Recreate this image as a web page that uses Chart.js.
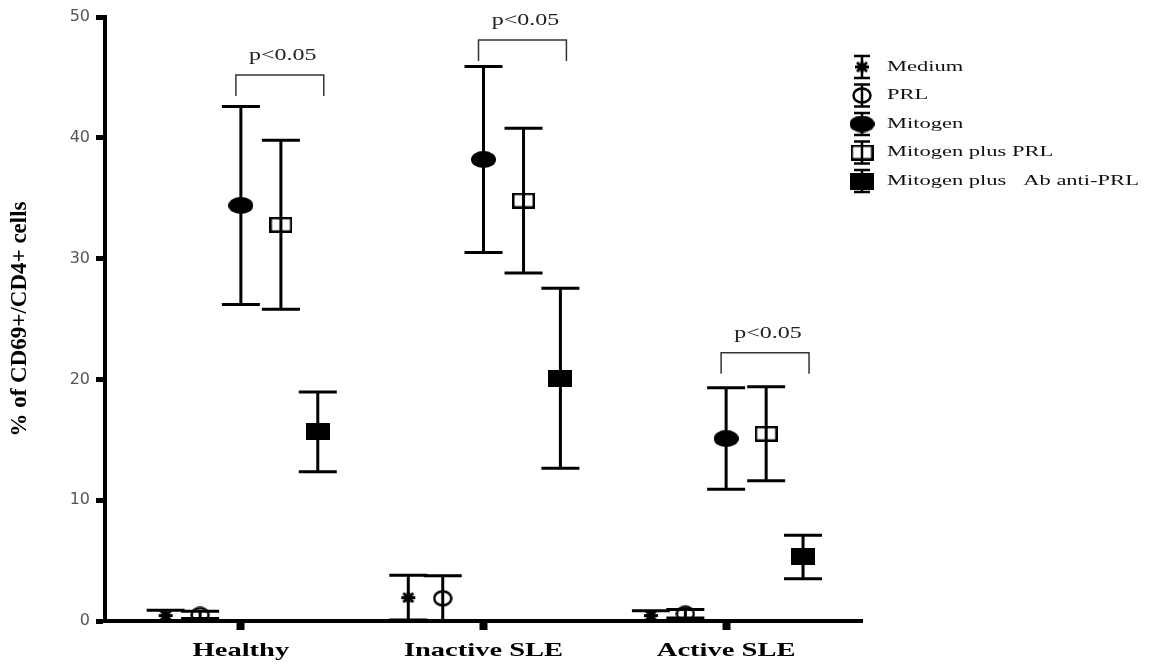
<!DOCTYPE html>
<html lang="en">
<head>
<meta charset="UTF-8">
<title>CD69+/CD4+ cells</title>
<script src="https://cdn.jsdelivr.net/npm/chart.js"></script>
<style>
  html, body { margin: 0; padding: 0; background: #fff; }
</style>
</head>
<body>
<canvas id="cd69Chart" width="1159" height="666"></canvas>
<script>
// groups on the x axis
const groups = ['Healthy', 'Inactive SLE', 'Active SLE'];
const seriesNames = ['Medium', 'PRL', 'Mitogen', 'Mitogen plus PRL', 'Mitogen plus   Ab anti-PRL'];

// mean % and error for each series (Healthy, Inactive SLE, Active SLE)
const medium = [0.45, 1.93, 0.45];
const mediumErr = [0.45, 1.85, 0.4];
const prl = [0.5, 1.88, 0.6];
const prlErr = [0.3, 1.87, 0.35];
const mitogen = [34.4, 38.2, 15.1];
const mitogenErr = [8.2, 7.7, 4.2];
const mitogenPrl = [32.8, 34.8, 15.5];
const mitogenPrlErr = [7.0, 6.0, 3.9];
const mitogenAb = [15.65, 20.1, 5.3];
const mitogenAbErr = [3.3, 7.45, 1.8];

const yTicks = [0, 10, 20, 30, 40, 50];
const pText = 'p<0.05';
const bracketY = [45.2, 48.1, 22.2];

// horizontal place of each series inside a group (x units)
const offsets = [-0.31, -0.168, 0, 0.165, 0.317];
const STRETCH = 1.5;

function marker(w, h, draw) {
    const c = document.createElement('canvas');
    c.width = w; c.height = h;
    const g = c.getContext('2d');
    g.fillStyle = '#000'; g.strokeStyle = '#000';
    draw(g, w, h);
    return c;
}
function starShape(g, w, h) {
    g.lineWidth = 3;
    g.beginPath();
    g.moveTo(1, h / 2); g.lineTo(w - 1, h / 2);
    g.moveTo(w / 2, 1); g.lineTo(w / 2, h - 1);
    g.moveTo(3, 2); g.lineTo(w - 3, h - 2);
    g.moveTo(w - 3, 2); g.lineTo(3, h - 2);
    g.stroke();
}
const starMark = marker(16, 13, starShape);
const circleOpen = marker(20, 17, (g, w, h) => { g.lineWidth = 2.5; g.beginPath(); g.ellipse(w / 2, h / 2, w / 2 - 1.5, h / 2 - 1.5, 0, 0, Math.PI * 2); g.stroke(); });
const circleFilled = marker(25, 17, (g, w, h) => { g.beginPath(); g.ellipse(w / 2, h / 2, w / 2, h / 2, 0, 0, Math.PI * 2); g.fill(); });
const squareOpen = marker(23, 16, (g, w, h) => { g.lineWidth = 2.5; g.strokeRect(1.25, 1.25, w - 2.5, h - 2.5); });
const squareFilled = marker(24, 17, (g, w, h) => { g.fillRect(0, 0, w, h); });

const values = [medium, prl, mitogen, mitogenPrl, mitogenAb];
const errors = [mediumErr, prlErr, mitogenErr, mitogenPrlErr, mitogenAbErr];
const styles = [starMark, circleOpen, circleFilled, squareOpen, squareFilled];

const datasets = values.map((vals, i) => ({
    label: seriesNames[i],
    data: vals.map((v, j) => ({ x: j + 1 + offsets[i], y: v })),
    err: errors[i],
    pointStyle: styles[i],
    showLine: false
}));

function stretchedText(ctx, text, x, y, font, color) {
    ctx.save();
    ctx.font = font;
    ctx.fillStyle = color;
    ctx.textBaseline = 'middle';
    ctx.translate(x, y);
    ctx.scale(STRETCH, 1);
    ctx.fillText(text, 0, 0);
    ctx.restore();
}

const errorBars = {
    id: 'errorBars',
    beforeDatasetsDraw(chart) {
        const ctx = chart.ctx, xs = chart.scales.x, ys = chart.scales.y;
        ctx.save();
        ctx.strokeStyle = '#000';
        ctx.lineWidth = 3;
        chart.data.datasets.forEach(ds => {
            ds.data.forEach((p, j) => {
                const x = xs.getPixelForValue(p.x);
                const top = ys.getPixelForValue(p.y + ds.err[j]);
                const bot = ys.getPixelForValue(Math.max(0, p.y - ds.err[j]));
                ctx.beginPath();
                ctx.moveTo(x, top); ctx.lineTo(x, bot);
                ctx.moveTo(x - 19, top); ctx.lineTo(x + 19, top);
                ctx.moveTo(x - 19, bot); ctx.lineTo(x + 19, bot);
                ctx.stroke();
            });
        });
        ctx.restore();
    }
};

const extras = {
    id: 'extras',
    afterDraw(chart) {
        const ctx = chart.ctx, xs = chart.scales.x, ys = chart.scales.y, area = chart.chartArea;
        // p value brackets
        ctx.save();
        ctx.strokeStyle = '#333';
        ctx.lineWidth = 1.5;
        groups.forEach((g, j) => {
            const x1 = xs.getPixelForValue(j + 1 + offsets[2]) - 5;
            const x2 = xs.getPixelForValue(j + 1 + offsets[4]) + 6;
            const y = ys.getPixelForValue(bracketY[j]);
            ctx.beginPath();
            ctx.moveTo(x1, y + 21); ctx.lineTo(x1, y); ctx.lineTo(x2, y); ctx.lineTo(x2, y + 21);
            ctx.stroke();
            ctx.save();
            ctx.font = '16px "Liberation Serif"';
            const w = ctx.measureText(pText).width * STRETCH;
            ctx.restore();
            stretchedText(ctx, pText, (x1 + x2) / 2 - w / 2 + 3, y - 19, '16px "Liberation Serif"', '#222');
        });
        ctx.restore();

        // group labels under the x axis
        xs.ticks.forEach(t => {
            const label = groups[Math.round(t.value) - 1];
            ctx.save();
            ctx.font = 'bold 19px "Liberation Serif"';
            const w = ctx.measureText(label).width * STRETCH;
            ctx.restore();
            stretchedText(ctx, label, xs.getPixelForValue(t.value) - w / 2, area.bottom + 30, 'bold 19px "Liberation Serif"', '#000');
        });

        // legend
        const lx = area.right;
        chart.data.datasets.forEach((ds, i) => {
            const cy = 67 + i * 28.5;
            ctx.save();
            ctx.strokeStyle = '#000';
            ctx.lineWidth = 2.5;
            ctx.beginPath();
            ctx.moveTo(lx, cy - 11); ctx.lineTo(lx, cy + 11);
            ctx.moveTo(lx - 8, cy - 11); ctx.lineTo(lx + 8, cy - 11);
            ctx.moveTo(lx - 8, cy + 11); ctx.lineTo(lx + 8, cy + 11);
            ctx.stroke();
            const img = ds.pointStyle;
            ctx.drawImage(img, lx - img.width / 2, cy - img.height / 2);
            ctx.restore();
            stretchedText(ctx, ds.label, lx + 25, cy, '15px "Liberation Serif"', '#111');
        });
    }
};

new Chart(document.getElementById('cd69Chart'), {
    type: 'scatter',
    data: { datasets: datasets },
    options: {
        responsive: false,
        animation: false,
        layout: { padding: { top: 17, right: 297, bottom: 0, left: 0 } },
        plugins: { legend: { display: false }, tooltip: { enabled: false } },
        scales: {
            x: {
                type: 'linear', min: 0.44, max: 3.56,
                afterBuildTicks: s => { s.ticks = groups.map((g, i) => ({ value: i + 1 })); },
                afterFit: s => { s.height = 45; },
                ticks: { display: false, callback: v => groups[Math.round(v) - 1] },
                grid: { drawOnChartArea: false, tickLength: 9, tickWidth: 8, tickColor: '#000' },
                border: { color: '#000', width: 4 }
            },
            y: {
                min: 0, max: 50,
                afterBuildTicks: s => { s.ticks = yTicks.map(v => ({ value: v })); },
                afterFit: s => { s.width = 105; },
                ticks: { font: { family: 'DejaVu Sans', size: 16 }, color: '#555', padding: 6 },
                grid: { drawOnChartArea: false, tickLength: 9, tickWidth: 5, tickColor: '#000' },
                border: { color: '#000', width: 4 },
                title: {
                    display: true, text: '% of CD69+/CD4+ cells', color: '#000',
                    font: { family: 'Liberation Serif', size: 23, weight: 'bold' },
                    padding: { top: 6, bottom: 0 }
                }
            }
        }
    },
    plugins: [errorBars, extras]
});
</script>
</body>
</html>
